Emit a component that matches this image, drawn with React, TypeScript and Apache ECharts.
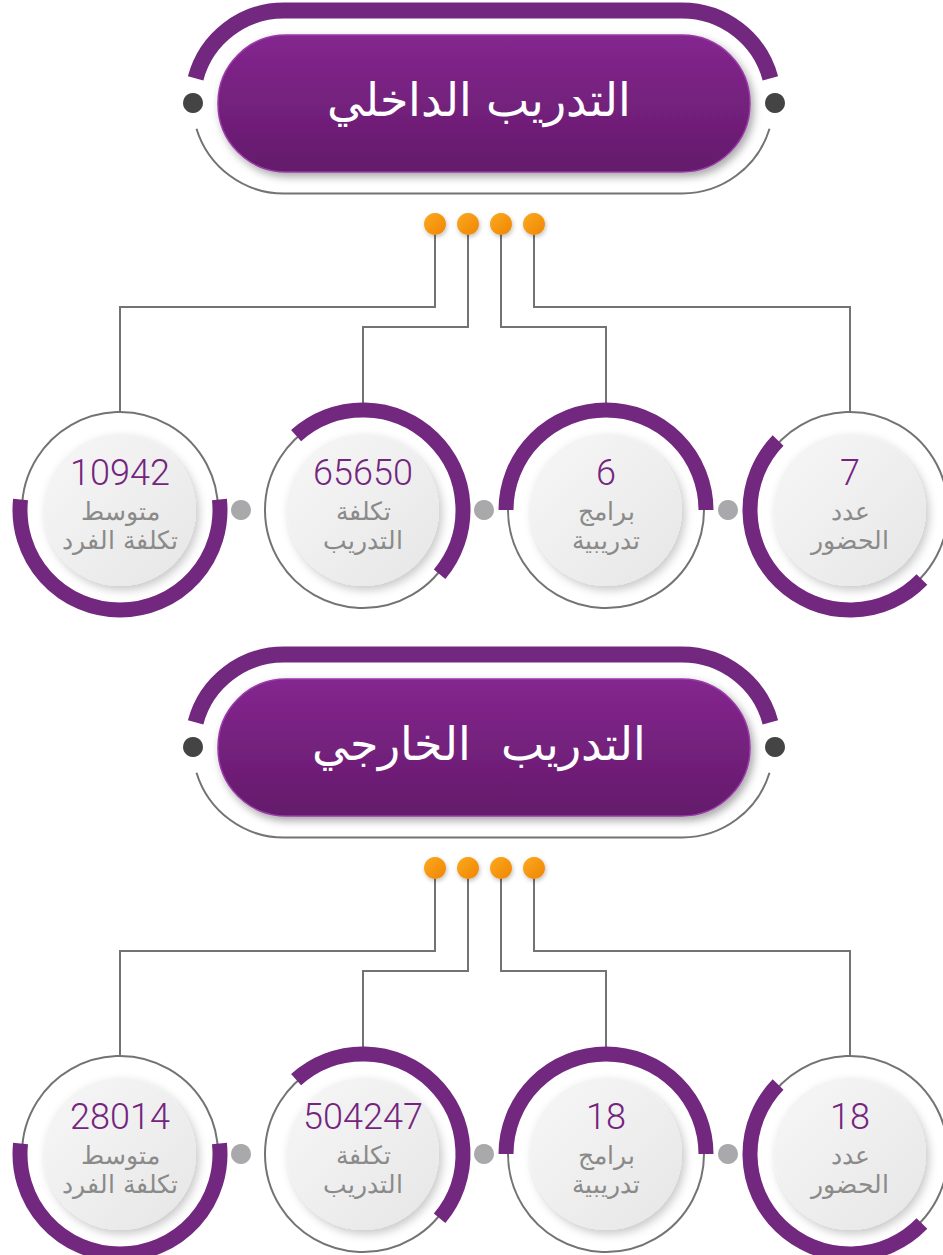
import React, { useEffect, useRef } from "react";
import * as echarts from "echarts";

// ---- data ----
const sectionTitles = ["التدريب الداخلي", "التدريب  الخارجي"];
const internalValues = [10942, 65650, 6, 7];
const externalValues = [28014, 504247, 18, 18];
const labelLine1 = ["متوسط", "تكلفة", "برامج", "عدد"];
const labelLine2 = ["تكلفة الفرد", "التدريب", "تدريبية", "الحضور"];
const sectionValues = [internalValues, externalValues];

// ---- layout / style ----
const PURPLE = "#72287f";
const GRAY_LINE = "#737373";
const AR_FONT = "'DejaVu Sans ExtraLight', 'DejaVu Sans', sans-serif";
const NUM_FONT = "Roboto, 'Noto Sans', sans-serif";
const circleX = [120, 363, 606, 850];
const dotX = [435, 468, 501, 534];
const elbowY = [307, 327, 327, 307];
const arcRanges = [
  [-6, 186],
  [228, 400],
  [180, 360],
  [44, 224],
];
const deg = (d: number) => (d * Math.PI) / 180;

function buildSection(si: number, oy: number): any[] {
  const els: any[] = [];
  const cy = 102 + oy;
  const R = 91.5;
  const cxL = 284;
  const cxR = 682;
  els.push({
    type: "arc",
    shape: { cx: cxL, cy, r: R, startAngle: deg(195), endAngle: deg(270), clockwise: true },
    style: { stroke: PURPLE, lineWidth: 16, fill: null },
  });
  els.push({
    type: "line",
    shape: { x1: cxL, y1: cy - R, x2: cxR, y2: cy - R },
    style: { stroke: PURPLE, lineWidth: 16 },
  });
  els.push({
    type: "arc",
    shape: { cx: cxR, cy, r: R, startAngle: deg(270), endAngle: deg(345), clockwise: true },
    style: { stroke: PURPLE, lineWidth: 16, fill: null },
  });
  els.push({
    type: "arc",
    shape: { cx: cxL, cy, r: R, startAngle: deg(90), endAngle: deg(163), clockwise: true },
    style: { stroke: GRAY_LINE, lineWidth: 2, fill: null },
  });
  els.push({
    type: "line",
    shape: { x1: cxL, y1: cy + R, x2: cxR, y2: cy + R },
    style: { stroke: GRAY_LINE, lineWidth: 2 },
  });
  els.push({
    type: "arc",
    shape: { cx: cxR, cy, r: R, startAngle: deg(17), endAngle: deg(90), clockwise: true },
    style: { stroke: GRAY_LINE, lineWidth: 2, fill: null },
  });
  [193, 775].forEach((x) =>
    els.push({ type: "circle", shape: { cx: x, cy: cy + 1, r: 10 }, style: { fill: "#444444" } })
  );
  els.push({
    type: "rect",
    shape: { x: 218, y: 35 + oy, width: 532, height: 137, r: 68 },
    style: {
      fill: new echarts.graphic.LinearGradient(0, 0, 0, 1, [
        { offset: 0, color: "#84268f" },
        { offset: 1, color: "#641b6b" },
      ]),
      stroke: "#9a3aa8",
      lineWidth: 1.5,
      shadowBlur: 8,
      shadowOffsetX: 3,
      shadowOffsetY: 4,
      shadowColor: "rgba(0,0,0,0.35)",
    },
  });
  els.push({
    type: "text",
    x: 479,
    y: 100 + oy,
    style: {
      text: sectionTitles[si],
      fill: "#ffffff",
      font: `200 46px ${AR_FONT}`,
      align: "center",
      verticalAlign: "middle",
    },
  });

  const dotY = 224 + oy;
  const ccy = 510 + oy;
  const rGray = 98;
  for (let i = 0; i < 4; i++) {
    els.push({
      type: "polyline",
      shape: {
        points: [
          [dotX[i], dotY],
          [dotX[i], elbowY[i] + oy],
          [circleX[i], elbowY[i] + oy],
          [circleX[i], ccy - rGray],
        ],
      },
      style: { stroke: GRAY_LINE, lineWidth: 2, fill: null },
    });
  }
  for (let i = 0; i < 4; i++) {
    els.push({
      type: "circle",
      shape: { cx: dotX[i], cy: dotY, r: 11 },
      style: {
        fill: new echarts.graphic.LinearGradient(0, 0, 1, 1, [
          { offset: 0, color: "#fbaa22" },
          { offset: 1, color: "#f08400" },
        ]),
        shadowBlur: 4,
        shadowOffsetX: 1,
        shadowOffsetY: 2,
        shadowColor: "rgba(0,0,0,0.25)",
      },
    });
  }
  [241, 484, 728].forEach((x) =>
    els.push({ type: "circle", shape: { cx: x, cy: ccy, r: 10 }, style: { fill: "#a9a9ab" } })
  );

  const vals = sectionValues[si];
  for (let i = 0; i < 4; i++) {
    const cx = circleX[i];
    els.push({
      type: "circle",
      shape: { cx, cy: ccy, r: rGray },
      style: { stroke: GRAY_LINE, lineWidth: 2, fill: "#ffffff" },
    });
    els.push({
      type: "arc",
      shape: {
        cx,
        cy: ccy,
        r: 100,
        startAngle: deg(arcRanges[i][0]),
        endAngle: deg(arcRanges[i][1]),
        clockwise: true,
      },
      style: { stroke: PURPLE, lineWidth: 15, fill: null },
    });
    els.push({
      type: "circle",
      shape: { cx, cy: ccy, r: 76 },
      style: {
        fill: new echarts.graphic.LinearGradient(0, 0, 1, 1, [
          { offset: 0, color: "#f7f7f7" },
          { offset: 1, color: "#e6e6e6" },
        ]),
        shadowBlur: 10,
        shadowOffsetX: 3,
        shadowOffsetY: 4,
        shadowColor: "rgba(0,0,0,0.22)",
      },
    });
    els.push({
      type: "text",
      x: cx,
      y: ccy - 37,
      style: {
        text: String(vals[i]),
        fill: "#74247f",
        font: `300 36px ${NUM_FONT}`,
        align: "center",
        verticalAlign: "middle",
      },
    });
    els.push({
      type: "text",
      x: cx,
      y: ccy + 1,
      style: {
        text: labelLine1[i],
        fill: "#8a8a8a",
        font: `200 25px ${AR_FONT}`,
        align: "center",
        verticalAlign: "middle",
      },
    });
    els.push({
      type: "text",
      x: cx,
      y: ccy + 30,
      style: {
        text: labelLine2[i],
        fill: "#8a8a8a",
        font: `200 25px ${AR_FONT}`,
        align: "center",
        verticalAlign: "middle",
      },
    });
  }
  return els;
}

export default function App() {
  const ref = useRef<HTMLDivElement>(null);
  useEffect(() => {
    if (!ref.current) return;
    const chart = echarts.init(ref.current, undefined, { renderer: "svg" });
    chart.setOption({
      animation: false,
      backgroundColor: "#ffffff",
      graphic: [...buildSection(0, 0), ...buildSection(1, 644)],
    });
    return () => chart.dispose();
  }, []);
  return (
    <div
      ref={ref}
      style={{ position: "absolute", left: 0, top: 0, width: 943, height: 1255 }}
    />
  );
}
